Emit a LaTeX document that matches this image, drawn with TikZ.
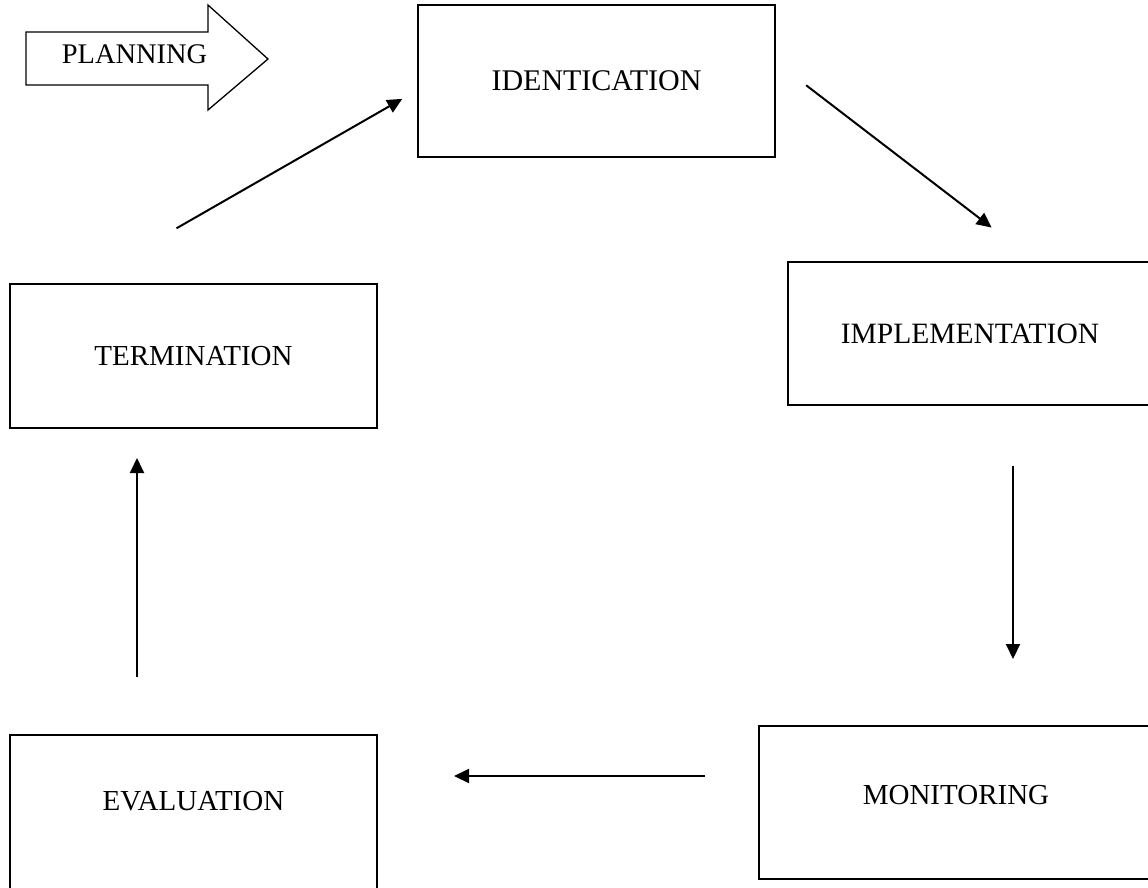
\documentclass[tikz,border=0pt]{standalone}
\usepackage{fontspec}
\setmainfont{Liberation Serif}
\usetikzlibrary{arrows.meta}

\tikzset{
  box/.style = {draw, line width=2pt, rectangle, inner sep=0pt, font=\fontsize{29}{34}\selectfont},
  flow/.style = {line width=2pt, -{Triangle[length=15pt, width=14pt]}}
}

\begin{document}
\begin{tikzpicture}[x=1pt, y=-1pt]
\clip (0,0) rectangle (1148,887);

% planning arrow
\draw[line width=1.3pt] (26,32)--(208,32)--(208,5)--(268,59)--(208,110)--(208,85)--(26,85)--cycle;
\node[font=\fontsize{28.4}{32}\selectfont] (plan) at (134.5,54) {PLANNING};

% the stages
\node[box, minimum width=357, minimum height=152, font=\fontsize{30}{34}\selectfont] (ident) at (596.5,81) {IDENTICATION};
\node[box, minimum width=364, minimum height=143, font=\fontsize{29.5}{34}\selectfont] (impl) at (970,333.5) {IMPLEMENTATION};
\node[box, minimum width=394, minimum height=153, text depth=15pt] (mon) at (956,802.5) {MONITORING};
\node[box, minimum width=367, minimum height=160, text depth=28pt] (eval) at (193.5,815) {EVALUATION};
\node[box, minimum width=367, minimum height=144] (term) at (193.5,356) {TERMINATION};

% the cycle
\draw[flow, shorten <=110pt, shorten >=17pt] (term.147) -- (ident.183);
\draw[flow, shorten <=38pt, shorten >=55pt] (ident.6.5) -- (impl.48.3);
\draw[flow, shorten <=60pt, shorten >=66pt] ([xshift=43pt]impl.south) -- ([xshift=57pt]mon.north);
\draw[flow, shorten <=53pt, shorten >=76pt] ([yshift=26.5pt]mon.west) -- ([yshift=39pt]eval.east);
\draw[flow, shorten <=57pt, shorten >=29pt] ([xshift=-56.5pt]eval.north) -- ([xshift=-56.5pt]term.south);
\end{tikzpicture}
\end{document}
